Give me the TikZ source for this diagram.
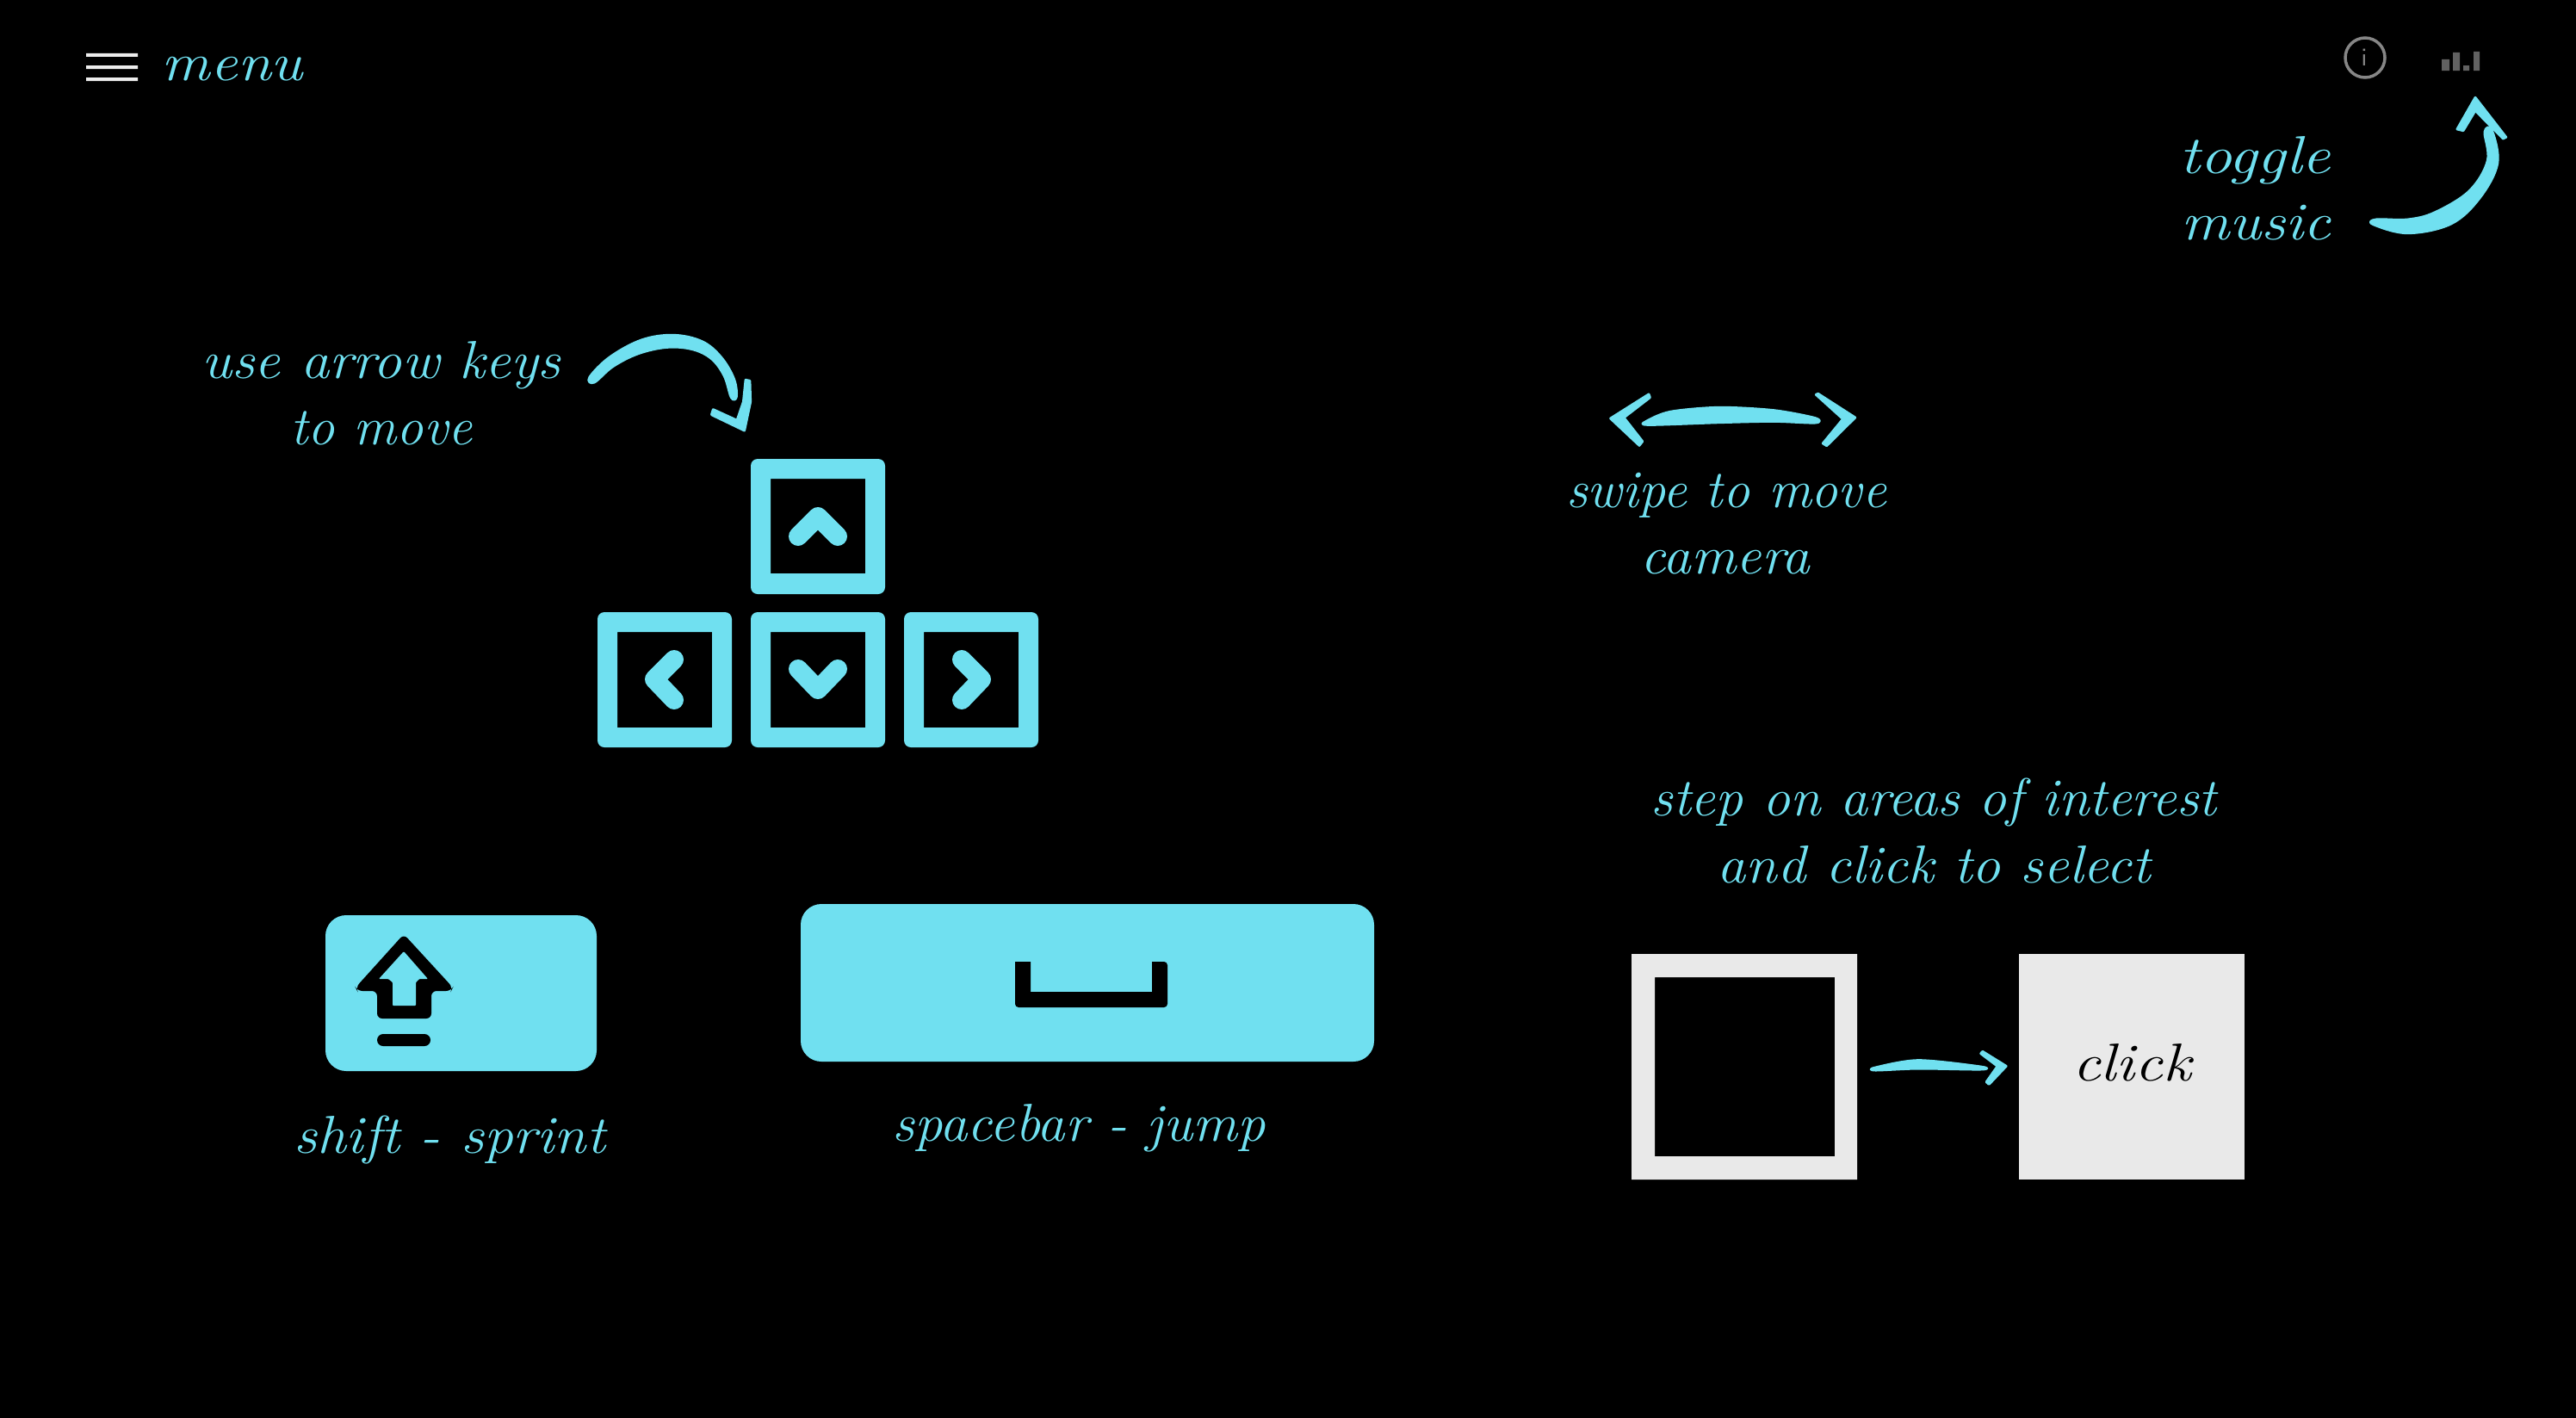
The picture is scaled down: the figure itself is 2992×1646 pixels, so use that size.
\documentclass[tikz,border=0pt]{standalone}
\definecolor{cy}{HTML}{70E0F0}
\definecolor{pale}{HTML}{E9E9E9}
\newcommand\hw[2]{\resizebox{#1pt}{\height}{#2}}
\tikzset{
  txt/.style={anchor=base,inner sep=0pt,outer sep=0pt,text=cy,font=\fontsize{62}{62}\selectfont\itshape},
  chev/.style={draw=cy,line width=22pt,line cap=round,line join=round},
  keyface/.style={fill=cy,even odd rule},
  hand/.style={fill=cy,draw=cy,line width=3pt,line join=round},
  zoomA/.style={shift={(2480,0)},x=.33333pt,y=-.33333pt},
  zoomB/.style={shift={(660,370)},x=.36996pt,y=-.33333pt},
  zoomC/.style={shift={(1800,430)},x=.33333pt,y=-.33333pt},
  zoomD/.style={shift={(1860,1080)},x=.49745pt,y=-.33333pt}
}
\begin{document}
\begin{tikzpicture}[x=1pt,y=-1pt]
\useasboundingbox (0,0) rectangle (2992,1646);
\fill[black] (-6,-6) rectangle (2998,1652);
% menu
\fill[pale!80!white] (100,62) rectangle (160,66) (100,76) rectangle (160,80) (100,90) rectangle (160,94);
\node[txt] (menu) at (270,93) {\hw{164}{menu}};
% info + music icons
\draw[gray!95,line width=3.5pt] (2747,67) circle (23);
\node[inner sep=0pt,anchor=base,text=gray!95,font=\fontsize{30}{30}\selectfont\sffamily] (info) at (2746,77) {i};
\fill[black!62] (2836,69) rectangle (2845,82) (2849,61) rectangle (2857,82) (2861,76) rectangle (2868,82) (2873,60) rectangle (2880,82);
% toggle music
\node[txt] (toggle) at (2619,201) {\hw{176}{toggle}};
\node[txt] (music) at (2620,278) {\hw{174}{music}};
\begin{scope}[zoomA]
\path[hand] plot[smooth cycle,tension=.6] coordinates {(830,782) (950,812) (1100,780) (1200,690) (1262,570) (1243,455) (1218,460) (1228,560) (1165,665) (1045,740) (950,765) (840,765)};
\path[hand] (1185,340) -- (1292,478) -- (1282,483) -- (1185,385) -- (1143,455) -- (1122,450) -- cycle;
\end{scope}
% use arrow keys
\node[txt] (usekeys) at (443,439) {\hw{417}{use arrow keys}};
\node[txt] (tomove) at (443,516) {\hw{211}{to move}};
\begin{scope}[zoomB]
\path[hand] plot[smooth cycle,tension=.6] coordinates {(67,205) (130,135) (230,75) (330,58) (420,80) (480,135) (520,210) (528,272) (512,275) (490,200) (450,140) (390,107) (310,100) (220,122) (140,167) (82,222)};
\path[hand] (557,214) -- (570,217) -- (572,290) -- (553,390) -- (450,335) -- (455,317) -- (530,355) -- (550,290) -- cycle;
\end{scope}
% arrow keys
\fill[keyface,rounded corners=8pt] (872,533) rectangle (1028,690) [sharp corners] (895,556) rectangle (1005,666);
\fill[keyface,rounded corners=8pt] (694,711) rectangle (850,868) [sharp corners] (717,734) rectangle (827,845);
\fill[keyface,rounded corners=8pt] (872,711) rectangle (1028,868) [sharp corners] (895,734) rectangle (1005,845);
\fill[keyface,rounded corners=8pt] (1050,711) rectangle (1206,868) [sharp corners] (1073,734) rectangle (1183,845);
\draw[chev] (927,623) -- (950,600) -- (973,623);
\draw[chev] (927,777) -- (950,801) -- (973,777);
\draw[chev] (783,766) -- (760,789) -- (783,813);
\draw[chev] (1117,766) -- (1140,789) -- (1117,813);
% shift
\fill[cy,rounded corners=24pt] (378,1063) rectangle (693,1244);
\fill[black,rounded corners=6pt] (469,1085) -- (526,1147) -- (524,1151) -- (501,1151) -- (501,1183) -- (438,1183) -- (438,1151) -- (415,1151) -- (413,1147) -- cycle;
\fill[cy,rounded corners=1pt] (469,1105) -- (497,1137) -- (487,1137) -- (483,1141) -- (483,1168) -- (456,1168) -- (456,1141) -- (451,1137) -- (440,1137) -- cycle;
\fill[black,rounded corners=7pt] (438,1201) rectangle (500,1215);
\node[txt] (shift) at (522,1339) {\hw{362}{shift - sprint}};
% space
\fill[cy,rounded corners=24pt] (930,1050) rectangle (1596,1233);
\fill[black,rounded corners=4pt] (1179,1117) -- (1179,1170) -- (1356,1170) -- (1356,1117) [sharp corners] -- (1338,1117) -- (1338,1152) -- (1197,1152) -- (1197,1117) -- cycle;
\node[txt] (space) at (1253,1325) {\hw{433}{spacebar - jump}};
% swipe
\begin{scope}[zoomC]
\path[hand] (345,84) -- (349,95) -- (258,165) -- (323,248) -- (312,262) -- (212,168) -- cycle;
\path[hand] (928,85) -- (935,82) -- (1064,165) -- (965,263) -- (952,255) -- (1022,170) -- cycle;
\path[hand] plot[smooth cycle,tension=.5] coordinates {(337,178) (420,145) (590,130) (780,140) (925,167) (925,183) (780,178) (590,182) (345,190)};
\end{scope}
\node[txt] (swipe) at (2005,589) {\hw{372}{swipe to move}};
\node[txt] (camera) at (2004,666) {\hw{197}{camera}};
% step
\node[txt] (step) at (2246,947) {\hw{657}{step on areas of interest}};
\node[txt] (andclick) at (2246,1025) {\hw{503}{and click to select}};
\fill[pale,even odd rule] (1895,1108) rectangle (2157,1370) (1922,1135) rectangle (2131,1343);
\fill[pale] (2345,1108) rectangle (2607,1370);
\begin{scope}[zoomD]
\path[hand] plot[smooth cycle,tension=.5] coordinates {(640,480) (740,455) (885,477) (885,486) (740,483) (640,489)};
\path[hand] (890,424) -- (945,475) -- (905,538) -- (899,530) -- (925,475) -- (886,431) -- cycle;
\end{scope}
\node[txt,text=black] (click) at (2476,1255) {\hw{138}{click}};
\end{tikzpicture}
\end{document}
